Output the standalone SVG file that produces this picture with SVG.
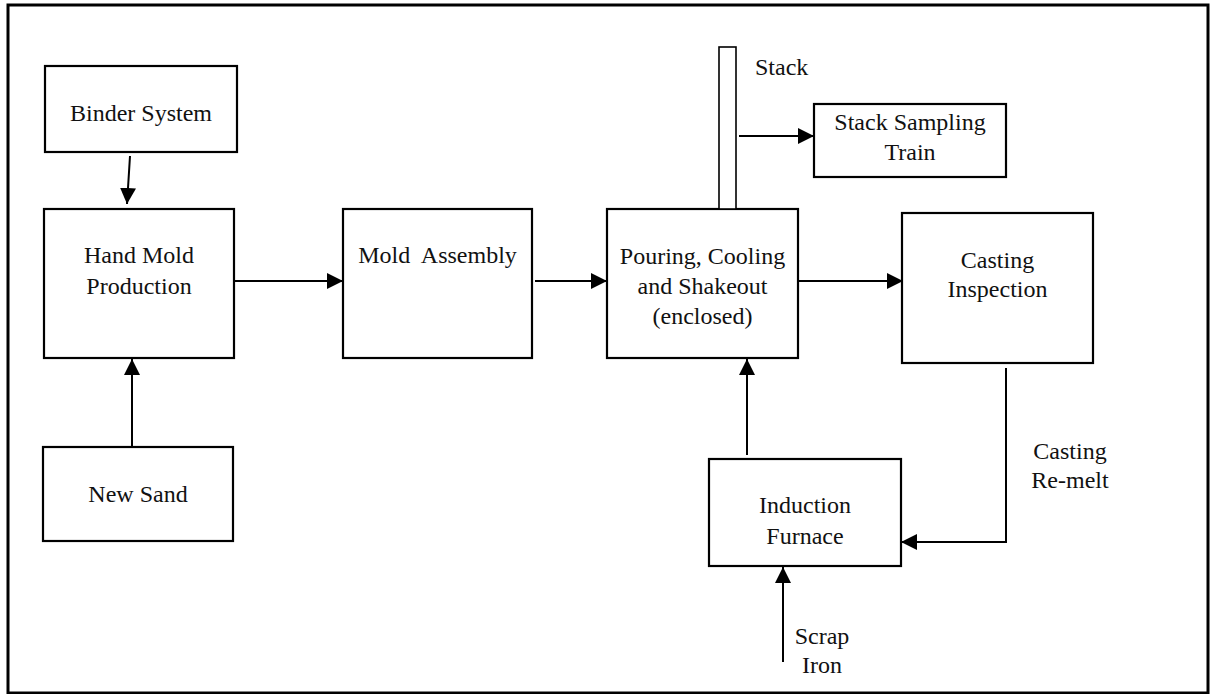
<svg xmlns="http://www.w3.org/2000/svg" width="1212" height="694" viewBox="0 0 1212 694">
  <style>
    .box { fill: #ffffff; stroke: #000000; stroke-width: 2.2; }
    .frame { fill: none; stroke: #000000; stroke-width: 3; }
    .lbl { font-family: "Liberation Serif", "Times New Roman", serif; font-size: 24px; fill: #111111; }
    .c { text-anchor: middle; }
    .conn { fill: none; stroke: #000000; stroke-width: 2; }
  </style>
  <defs>
    <marker id="arr" markerUnits="userSpaceOnUse" markerWidth="17" markerHeight="16" refX="16" refY="8" orient="auto">
      <path d="M0,0 L16,8 L0,16 z" fill="#000000"/>
    </marker>
  </defs>
  <rect fill="#ffffff" x="0" y="0" width="1212" height="694"/>
  <rect class="frame" x="8" y="5" width="1200" height="688"/>

  <g id="binder-system">
    <rect class="box" x="45" y="66" width="192" height="86"/>
    <text class="lbl c" x="141" y="121">Binder System</text>
  </g>
  <g id="hand-mold-production">
    <rect class="box" x="44" y="209" width="190" height="149"/>
    <text class="lbl c" x="139" y="263">Hand Mold</text>
    <text class="lbl c" x="139" y="294">Production</text>
  </g>
  <g id="new-sand">
    <rect class="box" x="43" y="447" width="190" height="94"/>
    <text class="lbl c" x="138" y="502">New Sand</text>
  </g>
  <g id="mold-assembly">
    <rect class="box" x="343" y="209" width="189" height="149"/>
    <text class="lbl c" x="437.5" y="263" xml:space="preserve" style="white-space:pre">Mold  Assembly</text>
  </g>
  <g id="pouring-cooling-shakeout">
    <rect class="box" x="607" y="209" width="191" height="149"/>
    <text class="lbl c" x="702.5" y="264">Pouring, Cooling</text>
    <text class="lbl c" x="702.5" y="294">and Shakeout</text>
    <text class="lbl c" x="702.5" y="324">(enclosed)</text>
  </g>
  <g id="stack">
    <rect x="719" y="47" width="17" height="162" fill="#ffffff" stroke="#000000" stroke-width="1.6"/>
    <text class="lbl" x="755" y="75">Stack</text>
  </g>
  <g id="stack-sampling-train">
    <rect class="box" x="814" y="104" width="192" height="73"/>
    <text class="lbl c" x="910" y="130">Stack Sampling</text>
    <text class="lbl c" x="910" y="160">Train</text>
  </g>
  <g id="casting-inspection">
    <rect class="box" x="902" y="213" width="191" height="150"/>
    <text class="lbl c" x="997.5" y="268">Casting</text>
    <text class="lbl c" x="997.5" y="297">Inspection</text>
  </g>
  <g id="induction-furnace">
    <rect class="box" x="709" y="459" width="192" height="107"/>
    <text class="lbl c" x="805" y="513">Induction</text>
    <text class="lbl c" x="805" y="544">Furnace</text>
  </g>
  <g id="casting-remelt-label">
    <text class="lbl c" x="1070" y="459">Casting</text>
    <text class="lbl c" x="1070" y="488">Re-melt</text>
  </g>
  <g id="scrap-iron-label">
    <text class="lbl c" x="822" y="644">Scrap</text>
    <text class="lbl c" x="822" y="673">Iron</text>
  </g>

  <g id="connectors">
    <line class="conn" x1="130" y1="156" x2="127" y2="204" marker-end="url(#arr)"/>
    <line class="conn" x1="132" y1="447" x2="132" y2="359" marker-end="url(#arr)"/>
    <line class="conn" x1="234" y1="281" x2="343" y2="281" marker-end="url(#arr)"/>
    <line class="conn" x1="535" y1="281" x2="607" y2="281" marker-end="url(#arr)"/>
    <line class="conn" x1="799" y1="281" x2="903" y2="281" marker-end="url(#arr)"/>
    <line class="conn" x1="739" y1="136" x2="814" y2="136" marker-end="url(#arr)"/>
    <line class="conn" x1="747" y1="455" x2="747" y2="359" marker-end="url(#arr)"/>
    <polyline class="conn" points="1006,368 1006,542 901,542" marker-end="url(#arr)"/>
    <line class="conn" x1="783" y1="662" x2="783" y2="567" marker-end="url(#arr)"/>
  </g>
</svg>
